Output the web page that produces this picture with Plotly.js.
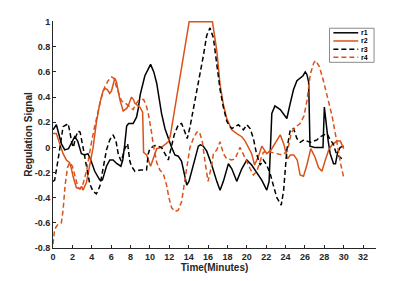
<!DOCTYPE html>
<html><head><meta charset="utf-8">
<script src="https://cdn.plot.ly/plotly-3.0.1.min.js"></script>
<style>html,body{margin:0;padding:0;background:#fff}#chart{width:415px;height:281px}</style>
</head><body><div id="chart"></div>
<script>
const seriesNames = ['r1', 'r2', 'r3', 'r4'];

const r1Time = [0,0.35,0.86,1.21,1.6,1.9,2.24,2.55,2.93,3.28,3.6,3.85,4.31,4.83,5.1,5.52,5.86,6.2,6.6,7.0,7.2,7.4,7.6,7.8,8.27,8.62,8.8,9.0,9.48,10.07,10.4,10.7,10.9,11.2,11.55,11.9,12.24,12.58,12.93,13.27,13.55,13.8,14.03,14.3,14.65,15.0,15.2,15.5,15.86,16.38,16.9,17.24,17.58,18.1,18.45,18.96,19.48,20.0,20.5,21.03,21.54,22.06,22.3,22.58,22.9,23.45,24.13,24.48,24.82,25.17,25.51,25.8,26.03,26.2,26.38,26.52,27.0,27.86,28.0,28.2,28.4,28.6,28.95,29.15,29.37,29.64,30.0];
const r1Value = [0.14,0.18,0.03,-0.02,-0.01,0.04,0.085,0.05,-0.05,-0.06,-0.05,-0.09,-0.19,-0.26,-0.26,-0.15,-0.1,-0.1,-0.13,-0.15,-0.1,0.02,0.17,0.19,0.19,0.24,0.31,0.42,0.57,0.66,0.6,0.51,0.42,0.27,0.15,0.07,0.0,-0.06,-0.07,-0.11,-0.22,-0.30,-0.27,-0.19,-0.07,0.01,0.02,0.01,-0.03,-0.14,-0.27,-0.34,-0.27,-0.13,-0.17,-0.27,-0.17,-0.1,-0.14,-0.2,-0.26,-0.34,-0.27,0.27,0.33,0.30,0.23,0.35,0.46,0.53,0.55,0.57,0.60,0.58,0.52,0.01,0.0,0.0,0.32,0.17,0.05,-0.05,-0.13,-0.13,-0.04,0.0,0.01];

const r2Time = [0,0.35,0.69,1.04,1.38,1.7,1.9,2.07,2.41,2.76,2.95,3.1,3.45,3.79,4.14,4.48,4.83,5.17,5.35,5.6,5.85,6.04,6.38,6.55,6.9,7.24,7.6,7.76,8.1,8.3,8.45,8.97,9.25,9.35,9.66,10.07,10.35,10.7,11.2,11.55,11.9,12.1,14.05,16.45,16.9,17.24,17.58,17.93,18.45,18.96,19.48,19.83,20.17,20.5,20.8,21.2,21.55,22.06,22.5,22.9,23.45,23.8,24.2,24.5,24.85,25.2,25.5,25.85,26.2,26.6,27.05,27.4,27.75,28.1,28.45,28.8,29.3,29.65,30.0];
const r2Value = [0.11,0.11,0.03,-0.05,-0.10,-0.12,-0.17,-0.23,-0.32,-0.33,-0.31,-0.34,-0.28,-0.15,0.0,0.2,0.35,0.45,0.47,0.46,0.43,0.45,0.55,0.52,0.38,0.29,0.31,0.33,0.40,0.38,0.35,0.32,0.28,-0.04,-0.06,-0.15,-0.09,-0.01,0.0,0.02,0.045,0.09,1.0,1.0,0.77,0.50,0.34,0.23,0.14,0.11,0.085,0.05,0.0,-0.05,-0.14,-0.07,0.01,-0.05,-0.02,0.03,0.10,0.03,-0.09,-0.06,-0.06,-0.1,-0.22,-0.23,-0.14,-0.01,-0.08,-0.16,-0.19,-0.1,-0.02,0.02,0.05,0.05,-0.01];

const r3Time = [0,0.17,0.52,0.86,1.04,1.38,1.55,1.75,1.95,2.1,2.35,2.6,2.8,3.1,3.45,3.79,4.14,4.48,4.83,5.17,5.52,5.86,6.2,6.5,6.75,7.05,7.41,7.7,7.93,8.1,8.45,9.0,9.65,9.83,10.0,10.5,10.86,11.2,11.62,11.9,12.17,12.51,12.93,13.27,13.62,13.85,14.13,14.48,14.83,15.17,15.52,15.86,16.2,16.55,16.9,17.24,17.58,17.93,18.2,18.45,19.13,19.65,20.0,20.34,20.68,21.0,21.37,21.7,22.06,22.45,22.8,23.1,23.55,23.8,24.13,24.48,24.82,25.17,25.51,25.9,26.55,27.24,27.58,28.27,28.6,28.9,29.2,29.5,29.8];
const r3Value = [-0.27,-0.26,-0.1,0.09,0.165,0.18,0.19,0.12,0.03,0.0,0.085,0.13,0.12,0.0,-0.15,-0.29,-0.35,-0.37,-0.31,-0.17,-0.02,0.06,0.1,0.05,-0.06,-0.11,-0.01,0.03,-0.11,-0.15,-0.19,-0.18,-0.18,-0.05,-0.01,0.015,0.01,0.0,-0.06,-0.1,-0.01,0.1,0.18,0.19,0.12,0.07,0.16,0.3,0.44,0.6,0.73,0.89,0.95,0.87,0.68,0.46,0.32,0.21,0.17,0.15,0.18,0.14,0.18,0.15,0.07,-0.05,-0.14,-0.1,-0.14,-0.22,-0.32,-0.40,-0.46,-0.34,-0.02,0.14,0.15,0.07,0.04,0.06,0.04,0.06,0.085,0.11,0.06,0.03,-0.04,-0.07,-0.09];

const r4Time = [0,0.17,0.52,0.86,1.04,1.25,1.5,1.73,2.0,2.24,2.59,2.8,3.1,3.45,3.72,3.97,4.31,4.66,5.0,5.34,5.69,6.04,6.3,6.55,7.07,7.5,7.93,8.27,8.6,8.79,9.14,9.35,9.6,9.83,10.17,10.35,10.7,11.03,11.38,11.72,11.96,12.24,12.58,12.93,13.27,13.55,13.79,14.13,14.48,14.82,15.1,15.4,15.7,16.0,16.38,16.55,16.9,17.24,17.58,17.93,18.45,18.79,19.3,19.65,20.0,20.35,20.68,21.03,21.37,21.7,22.06,22.6,23.1,23.6,24.2,24.6,25.0,25.5,25.9,26.2,26.55,26.9,27.1,27.5,27.9,28.3,28.8,29.3,29.65,30.0];
const r4Value = [-0.77,-0.65,-0.61,-0.60,-0.50,-0.30,-0.16,-0.12,-0.15,-0.22,-0.32,-0.33,-0.29,-0.19,-0.06,0.04,0.17,0.30,0.40,0.48,0.53,0.56,0.55,0.48,0.37,0.35,0.32,0.30,0.35,0.37,0.38,0.38,0.34,0.27,0.12,0.02,-0.12,-0.18,-0.21,-0.30,-0.40,-0.48,-0.51,-0.50,-0.43,-0.30,-0.17,0.0,0.07,0.12,0.125,0.05,-0.12,-0.27,-0.14,-0.05,-0.02,0.045,-0.05,-0.09,-0.1,-0.09,0.0,-0.06,-0.11,-0.17,-0.22,-0.19,-0.11,-0.04,-0.03,-0.04,-0.05,-0.06,-0.03,0.12,0.16,0.19,0.25,0.37,0.58,0.67,0.69,0.64,0.53,0.41,0.25,0.04,-0.12,-0.24];

const xTickValues = [0,2,4,6,8,10,12,14,16,18,20,22,24,26,28,30,32];
const xTickLabels = ['0','2','4','6','8','10','12','14','16','18','20','22','24','26','28','30','32'];
const yTickValues = [-0.8,-0.6,-0.4,-0.2,0,0.2,0.4,0.6,0.8,1];
const yTickLabels = ['-0.8','-0.6','-0.4','-0.2','0','0.2','0.4','0.6','0.8','1'];

const BLACK = '#000000', ORANGE = '#D95319';
const styles = [
  {color: BLACK, dash: 'solid'},
  {color: ORANGE, dash: 'solid'},
  {color: BLACK, dash: '5px,3px'},
  {color: ORANGE, dash: '5px,3px'}
];
const times = [r1Time, r2Time, r3Time, r4Time];
const values = [r1Value, r2Value, r3Value, r4Value];

const traces = seriesNames.map((name, i) => ({
  type: 'scatter', mode: 'lines', name: name,
  x: times[i], y: values[i],
  line: {color: styles[i].color, width: 1.5, dash: styles[i].dash},
  showlegend: false, hoverinfo: 'skip'
}));

const FONT = 'Liberation Sans, Arial, Helvetica, sans-serif';
const AX = '#262626';

// manual legend box (paper coordinates)
const lgX0 = 0.856, lgX1 = 0.994, lgY0 = 0.818, lgY1 = 0.968;
const lgLineX0 = 0.868, lgLineX1 = 0.945, lgTextX = 0.950;
const lgRowY = [0.948, 0.912, 0.876, 0.840];
const shapes = [{
  type: 'rect', xref: 'paper', yref: 'paper', x0: lgX0, x1: lgX1, y0: lgY0, y1: lgY1,
  line: {color: '#8a8a8a', width: 1}, fillcolor: '#ffffff', layer: 'above'
}];
const annotations = [];
seriesNames.forEach((name, i) => {
  shapes.push({type: 'line', xref: 'paper', yref: 'paper', x0: lgLineX0, x1: lgLineX1,
    y0: lgRowY[i], y1: lgRowY[i], line: {color: styles[i].color, width: 1.5, dash: styles[i].dash}, layer: 'above'});
  annotations.push({xref: 'paper', yref: 'paper', x: lgTextX, y: lgRowY[i], xanchor: 'left', yanchor: 'middle',
    text: '<b>' + name + '</b>', showarrow: false, borderpad: 0,
    font: {family: FONT, size: 7, color: '#000'}});
});

const layout = {
  width: 415, height: 281,
  margin: {l: 53, r: 39, t: 21, b: 33, pad: 0},
  paper_bgcolor: '#ffffff', plot_bgcolor: '#ffffff',
  font: {family: FONT, size: 9, color: AX},
  xaxis: {
    range: [0, 33.33], showgrid: false, zeroline: false,
    showline: true, linecolor: AX, linewidth: 1, mirror: false,
    ticks: 'inside', ticklen: 3, tickcolor: AX, tickwidth: 1,
    tickmode: 'array', tickvals: xTickValues, ticktext: xTickLabels,
    tickfont: {family: FONT, size: 9, color: AX, weight: 'bold'},
    title: {text: '<b>Time(Minutes)</b>', font: {family: FONT, size: 10, color: AX}, standoff: 3}
  },
  yaxis: {
    range: [-0.8, 1.005], showgrid: false, zeroline: false,
    showline: true, linecolor: AX, linewidth: 1, mirror: false,
    ticks: 'inside', ticklen: 3, tickcolor: AX, tickwidth: 1,
    tickmode: 'array', tickvals: yTickValues, ticktext: yTickLabels,
    tickfont: {family: FONT, size: 9, color: AX, weight: 'bold'},
    title: {text: '<b>Regulation Signal</b>', font: {family: FONT, size: 10, color: AX}, standoff: 0}
  },
  shapes: shapes,
  annotations: annotations,
  showlegend: false
};

Plotly.newPlot('chart', traces, layout, {displayModeBar: false, staticPlot: true});
</script>
</body></html>
